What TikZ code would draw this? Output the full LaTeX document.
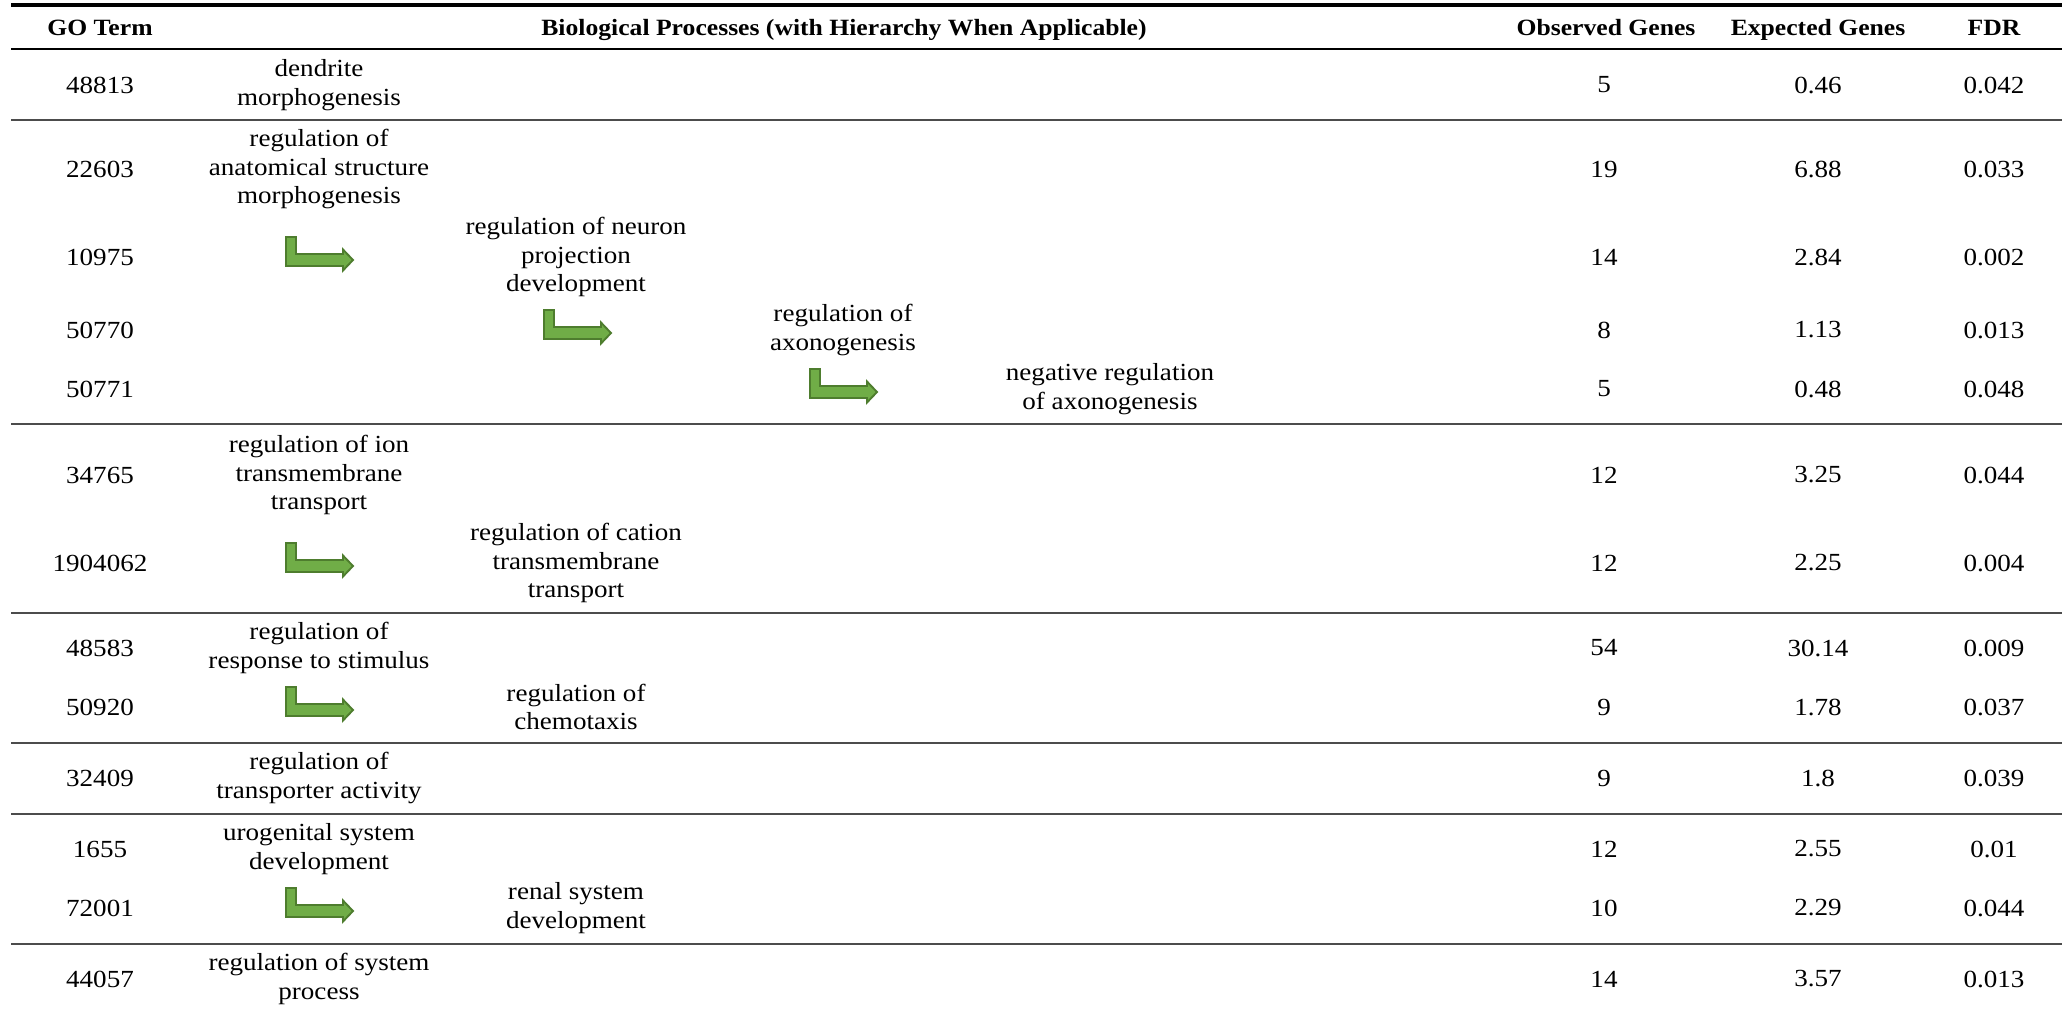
\documentclass[tikz,border=0pt]{standalone}
\usepackage{fontspec}
\setmainfont{Liberation Serif}[FakeStretch=1.1]
\usepackage{tikz}

\definecolor{arrowfill}{HTML}{70AD47}
\definecolor{arrowline}{HTML}{4E7D2E}

\begin{document}
\begin{tikzpicture}[x=0.015cm, y=-0.015cm,
    cell/.style={font=\fontsize{10.5}{12.2}\selectfont, align=center, inner sep=0pt},
    head/.style={cell, font=\fontsize{9.95}{12.2}\selectfont\bfseries, anchor=base},
    rule/.style={line width=0.6pt, black!70},
    hierarrow/.pic={
      \filldraw[fill=arrowfill, draw=arrowline, line width=0.8pt, line join=miter]
        (0,0) -- (57,0) -- (57,4.5) -- (67,-6) -- (57,-16.5) -- (57,-12)
        -- (10,-12) -- (10,-29) -- (0,-29) -- cycle;
    }]
      \useasboundingbox (0,0) rectangle (2071,1011);

      % rules
      \draw[line width=1.3pt] (11,5) -- (2062,5);
      \draw[line width=0.6pt] (11,49) -- (2062,49);
      \draw[rule] (11,120) -- (2062,120);
      \draw[rule] (11,424) -- (2062,424);
      \draw[rule] (11,613) -- (2062,613);
      \draw[rule] (11,743) -- (2062,743);
      \draw[rule] (11,814) -- (2062,814);
      \draw[rule] (11,944) -- (2062,944);

      % header
      \node[head] (hgo) at (100,35) {GO Term};
      \node[head] (hbp) at (844,35) {Biological Processes (with Hierarchy When Applicable)};
      \node[head] (hobs) at (1606,35) {Observed Genes};
      \node[head] (hexp) at (1818,35) {Expected Genes};
      \node[head] (hfdr) at (1994,35) {FDR};

      % GO terms and counts
      \node[cell] (go1) at (100,85) {48813};   \node[cell] (ob1) at (1604,85) {5};    \node[cell] (ex1) at (1818,85) {0.46};   \node[cell] (fd1) at (1994,85) {0.042};
      \node[cell] (go2) at (100,169) {22603};  \node[cell] (ob2) at (1604,169) {19};  \node[cell] (ex2) at (1818,169) {6.88};  \node[cell] (fd2) at (1994,169) {0.033};
      \node[cell] (go3) at (100,257) {10975};  \node[cell] (ob3) at (1604,257) {14};  \node[cell] (ex3) at (1818,257) {2.84};  \node[cell] (fd3) at (1994,257) {0.002};
      \node[cell] (go4) at (100,330) {50770};  \node[cell] (ob4) at (1604,330) {8};   \node[cell] (ex4) at (1818,330) {1.13};  \node[cell] (fd4) at (1994,330) {0.013};
      \node[cell] (go5) at (100,389) {50771};  \node[cell] (ob5) at (1604,389) {5};   \node[cell] (ex5) at (1818,389) {0.48};  \node[cell] (fd5) at (1994,389) {0.048};
      \node[cell] (go6) at (100,475) {34765};  \node[cell] (ob6) at (1604,475) {12};  \node[cell] (ex6) at (1818,475) {3.25};  \node[cell] (fd6) at (1994,475) {0.044};
      \node[cell] (go7) at (100,563) {1904062};\node[cell] (ob7) at (1604,563) {12};  \node[cell] (ex7) at (1818,563) {2.25};  \node[cell] (fd7) at (1994,563) {0.004};
      \node[cell] (go8) at (100,648) {48583};  \node[cell] (ob8) at (1604,648) {54};  \node[cell] (ex8) at (1818,648) {30.14}; \node[cell] (fd8) at (1994,648) {0.009};
      \node[cell] (go9) at (100,707) {50920};  \node[cell] (ob9) at (1604,707) {9};   \node[cell] (ex9) at (1818,707) {1.78};  \node[cell] (fd9) at (1994,707) {0.037};
      \node[cell] (go10) at (100,778) {32409}; \node[cell] (ob10) at (1604,778) {9};  \node[cell] (ex10) at (1818,778) {1.8};  \node[cell] (fd10) at (1994,778) {0.039};
      \node[cell] (go11) at (100,849) {1655};  \node[cell] (ob11) at (1604,849) {12}; \node[cell] (ex11) at (1818,849) {2.55}; \node[cell] (fd11) at (1994,849) {0.01};
      \node[cell] (go12) at (100,908) {72001}; \node[cell] (ob12) at (1604,908) {10}; \node[cell] (ex12) at (1818,908) {2.29}; \node[cell] (fd12) at (1994,908) {0.044};
      \node[cell] (go13) at (100,979) {44057}; \node[cell] (ob13) at (1604,979) {14}; \node[cell] (ex13) at (1818,979) {3.57}; \node[cell] (fd13) at (1994,979) {0.013};

      % processes, first level
      \node[cell] (dendrite) at (319,85) {dendrite\\morphogenesis};
      \node[cell] (anatomical) at (319,169) {regulation of\\anatomical structure\\morphogenesis};
      \node[cell] (iontrans) at (319,475) {regulation of ion\\transmembrane\\transport};
      \node[cell] (stimulus) at (319,648) {regulation of\\response to stimulus};
      \node[cell] (transporter) at (319,778) {regulation of\\transporter activity};
      \node[cell] (urogenital) at (319,849) {urogenital system\\development};
      \node[cell] (sysproc) at (319,979) {regulation of system\\process};

      % deeper levels
      \node[cell] (neuronproj) at (576,257) {regulation of neuron\\projection\\development};
      \node[cell] (cationtrans) at (576,563) {regulation of cation\\transmembrane\\transport};
      \node[cell] (chemotaxis) at (576,707) {regulation of\\chemotaxis};
      \node[cell] (renal) at (576,908) {renal system\\development};
      \node[cell] (axono) at (843,330) {regulation of\\axonogenesis};
      \node[cell] (negaxono) at (1110,389) {negative regulation\\of axonogenesis};

      % hierarchy arrows
      \pic at (286,266) {hierarrow};
      \pic at (544,339) {hierarrow};
      \pic at (810,398) {hierarrow};
      \pic at (286,572) {hierarrow};
      \pic at (286,716) {hierarrow};
      \pic at (286,917) {hierarrow};
\end{tikzpicture}
\end{document}
